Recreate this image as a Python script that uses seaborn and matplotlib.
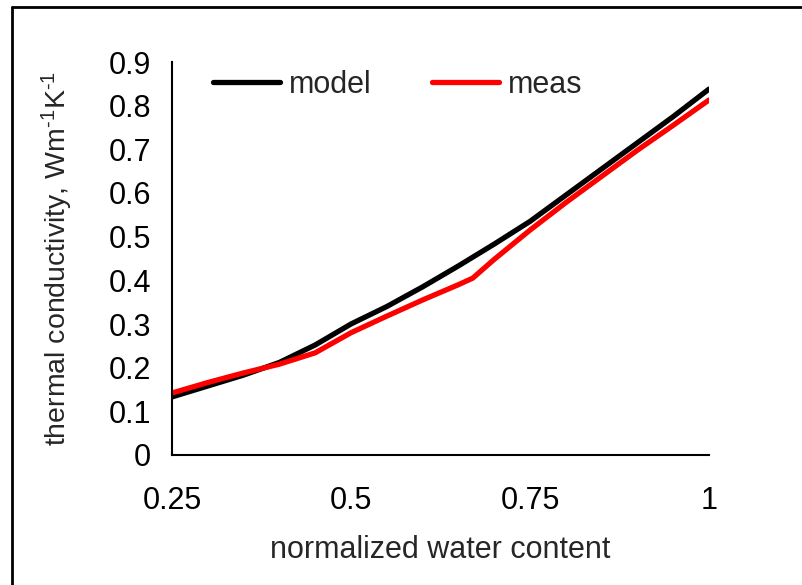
import matplotlib
matplotlib.use("Agg")
import matplotlib.pyplot as plt
import seaborn as sns
import pandas as pd
from matplotlib.lines import Line2D

x_model = [0.25, 0.30, 0.35, 0.40, 0.45, 0.50, 0.55, 0.60, 0.65, 0.70, 0.75, 0.80, 0.85, 0.90, 0.95, 1.00]
y_model = [0.133, 0.158, 0.183, 0.212, 0.252, 0.300, 0.340, 0.385, 0.433, 0.483, 0.535, 0.595, 0.655, 0.715, 0.775, 0.838]
x_meas = [0.25, 0.30, 0.35, 0.40, 0.45, 0.50, 0.55, 0.60, 0.65, 0.67, 0.70, 0.75, 0.80, 0.85, 0.90, 0.95, 1.00]
y_meas = [0.142, 0.166, 0.188, 0.208, 0.234, 0.280, 0.318, 0.355, 0.390, 0.405, 0.448, 0.515, 0.578, 0.638, 0.698, 0.755, 0.813]
series_names = ["model", "meas"]
x_ticks = [0.25, 0.5, 0.75, 1]
x_ticklabels = ["0.25", "0.5", "0.75", "1"]
y_ticks = [0, 0.1, 0.2, 0.3, 0.4, 0.5, 0.6, 0.7, 0.8, 0.9]
y_ticklabels = ["0", "0.1", "0.2", "0.3", "0.4", "0.5", "0.6", "0.7", "0.8", "0.9"]

df = pd.concat([
    pd.DataFrame({"x": x_model, "y": y_model, "series": series_names[0]}),
    pd.DataFrame({"x": x_meas, "y": y_meas, "series": series_names[1]}),
])

sns.set_style("white")
plt.rcParams["font.family"] = ["Liberation Sans", "DejaVu Sans"]
plt.rcParams["mathtext.fontset"] = "custom"
plt.rcParams["mathtext.rm"] = "Liberation Sans"
plt.rcParams["mathtext.it"] = "Liberation Sans"

fig = plt.figure(figsize=(8.02, 5.85), dpi=100)
ax = fig.add_axes([172/802, 1-455/585, (709-172)/802, (455-62)/585])

sns.lineplot(data=df, x="x", y="y", hue="series", sort=False,
             palette={"model": "#000000", "meas": "#ff0000"},
             linewidth=3.8, ax=ax, legend=False)

ax.set_xlim(0.25, 1.0)
ax.set_ylim(0, 0.9)
ax.set_xticks(x_ticks)
ax.set_xticklabels(x_ticklabels)
ax.set_yticks(y_ticks)
ax.set_yticklabels(y_ticklabels)
for s in ["top", "right"]:
    ax.spines[s].set_visible(False)
for s in ["left", "bottom"]:
    ax.spines[s].set_color("black")
    ax.spines[s].set_linewidth(1.5)
ax.tick_params(axis="both", direction="out", length=6, width=1.5, colors="black", labelsize=22)
ax.tick_params(axis="x", pad=16)
ax.tick_params(axis="y", pad=9)
ax.set_xlabel("normalized water content", fontsize=22, labelpad=14)
ax.set_ylabel("thermal conductivity, Wm$^{\\text{-1}}$K$^{\\text{-1}}$", fontsize=20.5, labelpad=24)

handles = [Line2D([], [], color="#000000", lw=3.8), Line2D([], [], color="#ff0000", lw=3.8)]
fig.legend(handles, series_names, ncol=2, frameon=False, fontsize=22,
           loc="center left", bbox_to_anchor=(213/802, 1-85/585), borderpad=0,
           borderaxespad=0, handlelength=2.2, handletextpad=0.27, columnspacing=2.0)

# outer frame
fig.add_artist(Line2D([12/802, 12/802], [0, 1-7/585], color="black", lw=2, transform=fig.transFigure))
fig.add_artist(Line2D([12/802, 1], [1-7/585, 1-7/585], color="black", lw=2, transform=fig.transFigure))

fig.savefig("out.png", dpi=100)
